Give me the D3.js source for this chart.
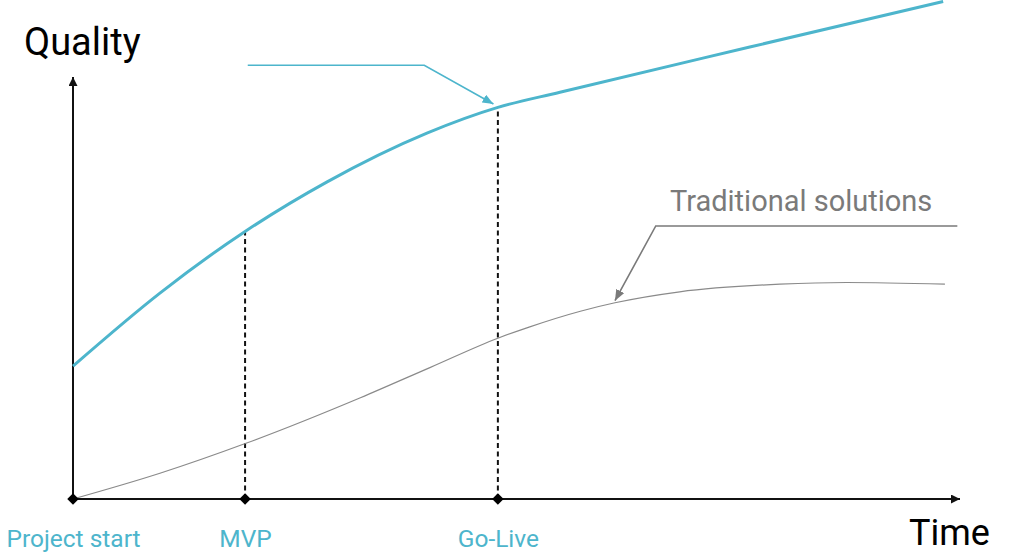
<!DOCTYPE html>
<html>
<head>
<meta charset="utf-8">
<script src="https://cdn.jsdelivr.net/npm/d3@7"></script>
<style>
  html, body { margin: 0; padding: 0; background: #fff; }
  svg { display: block; }
  text { font-family: Roboto, "Noto Sans", sans-serif; }
</style>
</head>
<body>
<svg id="chart" width="1024" height="554"></svg>
<script>
// ---- data (time 0..100, quality 0..100) ----
const milestoneNames = ["Project start", "MVP", "Go-Live"];
const milestoneTimes = [0, 19.4, 47.9];

const blueTime    = [0, 9.8, 19.4, 28.6, 39.9, 47.9, 54.9, 76.3, 98.1];
const blueQuality = [31.5, 48.8, 63.4, 75.1, 86.7, 92.8, 96.4, 107.1, 117.9];

const grayTime    = [0, 9.8, 19.5, 32.4, 40.3, 47.9, 51.5, 57.2, 61.1, 68.4, 79.7, 87.2, 98.3];
const grayQuality = [0, 6.1, 13.2, 24.0, 31.2, 38.1, 40.8, 44.5, 46.5, 49.1, 50.9, 51.3, 50.9];

const grayLabel = "Traditional solutions";
// callout paths (time, quality)
const blueCallout = [[19.7, 102.8], [39.6, 102.8], [47.4, 93.6]];
const grayCallout = [[99.7, 64.7], [65.7, 64.7], [61.1, 47.0]];
const grayLabelPos = [67.3, 68.2];

const yTitle = "Quality";
const xTitle = "Time";

// ---- layout ----
const svg = d3.select("#chart");
const x = d3.scaleLinear().domain([0, 100]).range([73, 960]);
const y = d3.scaleLinear().domain([0, 100]).range([499, 77]);

const BLUE = "#4db5cc";
const GRAY = "#7a7a7a";

const defs = svg.append("defs");
function arrow(id, color, w, h) {
  defs.append("marker")
    .attr("id", id)
    .attr("viewBox", `0 0 ${w} ${h}`)
    .attr("refX", w).attr("refY", h / 2)
    .attr("markerWidth", w).attr("markerHeight", h)
    .attr("markerUnits", "userSpaceOnUse")
    .attr("orient", "auto")
    .append("path")
    .attr("d", `M0,0L${w},${h / 2}L0,${h}Z`)
    .attr("fill", color);
}
arrow("axArrow", "#111", 9, 9);
arrow("blueArrow", BLUE, 11, 9);
arrow("grayArrow", GRAY, 11, 9);

// axes via d3 axes (no tick marks), domain lines replaced with arrowed lines
const xAxis = d3.axisBottom(x)
  .tickValues(milestoneTimes)
  .tickFormat((d, i) => milestoneNames[i])
  .tickSize(0).tickPadding(31);
const gx = svg.append("g").attr("transform", `translate(0,${y(0)})`).call(xAxis);
gx.select(".domain").remove();
gx.selectAll(".tick text")
  .attr("fill", BLUE)
  .style("font-family", "Roboto, sans-serif")
  .style("font-size", "24.5px");

svg.append("line")
  .attr("x1", x(0)).attr("x2", x(100))
  .attr("y1", y(0)).attr("y2", y(0))
  .attr("stroke", "#111").attr("stroke-width", 2)
  .attr("marker-end", "url(#axArrow)");
svg.append("line")
  .attr("x1", x(0)).attr("x2", x(0))
  .attr("y1", y(0)).attr("y2", y(100))
  .attr("stroke", "#111").attr("stroke-width", 2)
  .attr("marker-end", "url(#axArrow)");

// lines
const line = d3.line().x(d => x(d[0])).y(d => y(d[1])).curve(d3.curveMonotoneX);
const blueData = blueTime.map((t, i) => [t, blueQuality[i]]);
const grayData = grayTime.map((t, i) => [t, grayQuality[i]]);

// dashed milestone lines up to the blue curve
const blueAt = t => {
  const i = blueTime.indexOf(t);
  return i >= 0 ? blueQuality[i] : d3.scaleLinear().domain(blueTime).range(blueQuality)(t);
};
svg.append("g").selectAll("line")
  .data(milestoneTimes.slice(1))
  .join("line")
  .attr("x1", d => x(d)).attr("x2", d => x(d))
  .attr("y1", y(0)).attr("y2", d => y(blueAt(d)))
  .attr("stroke", "#111").attr("stroke-width", 2)
  .attr("stroke-dasharray", "5,3.5");

svg.append("path").datum(grayData)
  .attr("d", line).attr("fill", "none")
  .attr("stroke", "#8a8a8a").attr("stroke-width", 1.2);

svg.append("path").datum(blueData)
  .attr("d", line).attr("fill", "none")
  .attr("stroke", BLUE).attr("stroke-width", 3);

// callouts
const straight = d3.line().x(d => x(d[0])).y(d => y(d[1]));
svg.append("path").datum(blueCallout)
  .attr("d", straight).attr("fill", "none")
  .attr("stroke", BLUE).attr("stroke-width", 1.6)
  .attr("marker-end", "url(#blueArrow)");
svg.append("path").datum(grayCallout)
  .attr("d", straight).attr("fill", "none")
  .attr("stroke", GRAY).attr("stroke-width", 1.6)
  .attr("marker-end", "url(#grayArrow)");

svg.append("text")
  .attr("x", x(grayLabelPos[0])).attr("y", y(grayLabelPos[1]))
  .attr("fill", GRAY)
  .style("font-size", "29px")
  .text(grayLabel);

// milestone diamonds
svg.append("g").selectAll("path")
  .data(milestoneTimes)
  .join("path")
  .attr("d", d3.symbol(d3.symbolSquare, 66))
  .attr("transform", d => `translate(${x(d)},${y(0)}) rotate(45)`)
  .attr("fill", "#000");

// titles
svg.append("text")
  .attr("x", 24).attr("y", 55)
  .attr("fill", "#000")
  .style("font-size", "38px")
  .text(yTitle);
svg.append("text")
  .attr("x", 909).attr("y", 545)
  .attr("fill", "#000")
  .style("font-size", "36px")
  .text(xTitle);
</script>
</body>
</html>
